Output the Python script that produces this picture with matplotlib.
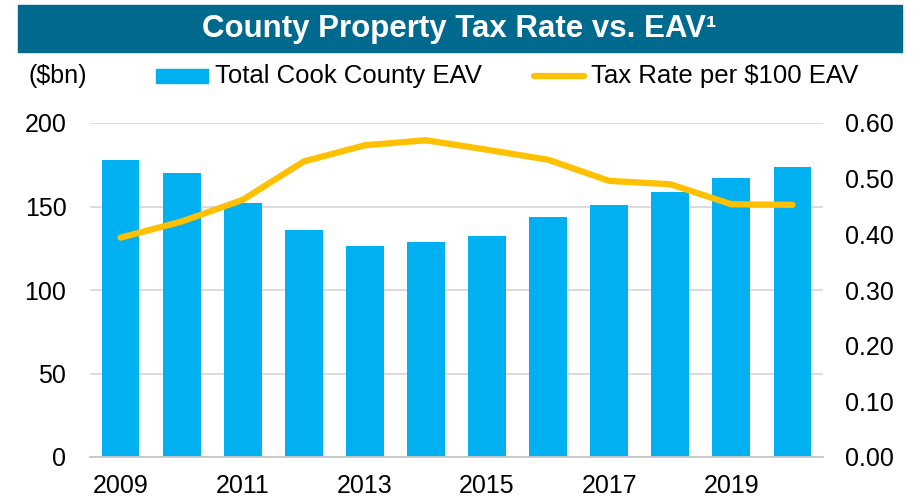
import matplotlib.pyplot as plt
from matplotlib.patches import Rectangle
from matplotlib.lines import Line2D

plt.rcParams['font.family'] = ['Liberation Sans', 'DejaVu Sans']

years = ['2009', '2010', '2011', '2012', '2013', '2014',
         '2015', '2016', '2017', '2018', '2019', '2020']
eav = [177.8, 170.2, 152.0, 136.1, 126.2, 128.6,
       132.5, 143.5, 150.7, 158.7, 166.9, 173.5]
tax_rate = [0.394, 0.423, 0.462, 0.531, 0.560, 0.569,
            0.552, 0.534, 0.496, 0.490, 0.454, 0.453]

bar_color = '#00B0F0'
line_color = '#FFC000'
banner_color = '#006A8E'
W, H = 917, 501

fig = plt.figure(figsize=(9.17, 5.01), dpi=100)
ax = fig.add_axes([90 / W, 1 - 457 / H, 733 / W, 334 / H])
ax2 = ax.twinx()

x = list(range(len(years)))
ax.bar(x, eav, width=0.62, color=bar_color, zorder=2)
ax2.plot(x, tax_rate, color=line_color, lw=4.5, solid_capstyle='round', zorder=3)

ax.set_xlim(-0.5, len(years) - 0.5)
ax.set_ylim(0, 200)
ax.set_yticks([0, 50, 100, 150, 200])
ax.yaxis.grid(True, color='#D9D9D9', lw=1.3, zorder=0)
ax.set_axisbelow(True)
ax2.set_ylim(0, 0.6)
ax2.set_yticks([0, 0.1, 0.2, 0.3, 0.4, 0.5, 0.6])
ax2.set_yticklabels([f'{v:.2f}' for v in ax2.get_yticks()])

ax.set_xticks(x[::2])
ax.set_xticklabels(years[::2])

ax.set_zorder(1)
ax2.set_zorder(2)
ax2.patch.set_visible(False)

for a in (ax, ax2):
    for s in a.spines.values():
        s.set_visible(False)
    a.tick_params(length=0, labelsize=18, colors='black')
ax.spines['bottom'].set_visible(True)
ax.spines['bottom'].set_color('#C8C8C8')
ax.spines['bottom'].set_linewidth(1.3)
ax.tick_params(axis='y', pad=17)
ax.tick_params(axis='x', pad=12)
ax2.tick_params(axis='y', pad=16)

# title banner
fig.patches.append(Rectangle((18 / W, 1 - 52 / H), 884 / W, 47 / H,
                             transform=fig.transFigure, color=banner_color, zorder=0))
fig.text(459 / W, 1 - 29 / H, 'County Property Tax Rate vs. EAV¹',
         ha='center', va='center', color='white', fontsize=22.5, fontweight='bold')

fig.text(28 / W, 1 - 76 / H, '($bn)', ha='left', va='center', fontsize=18)

# legend drawn by hand
fig.patches.append(Rectangle((156 / W, 1 - 83 / H), 52 / W, 14 / H,
                             transform=fig.transFigure, color=bar_color))
fig.text(215 / W, 1 - 76 / H, 'Total Cook County EAV', ha='left', va='center', fontsize=18.5)
fig.lines.append(Line2D([534 / W, 584 / W], [1 - 76 / H, 1 - 76 / H],
                        transform=fig.transFigure, color=line_color, lw=4.5,
                        solid_capstyle='round'))
fig.text(591 / W, 1 - 76 / H, 'Tax Rate per $100 EAV', ha='left', va='center', fontsize=18.5)

fig.savefig('out.png', dpi=100)
